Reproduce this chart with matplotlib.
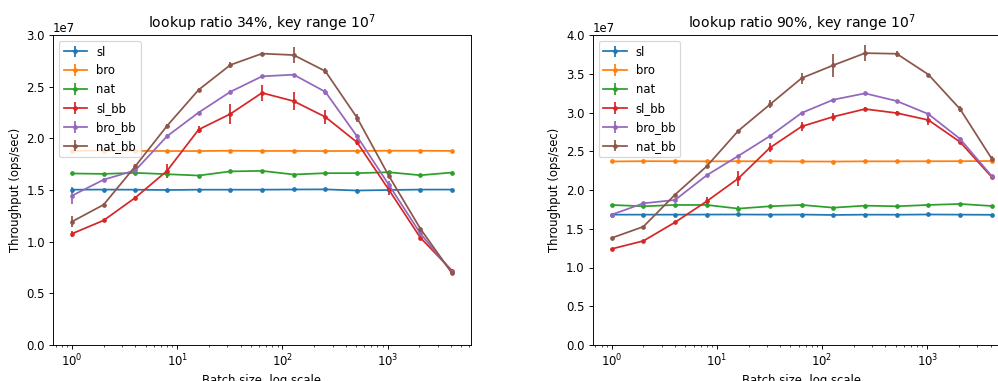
import numpy as np
import matplotlib
matplotlib.use("Agg")
import matplotlib.pyplot as plt

batch = [1, 2, 4, 8, 16, 32, 64, 128, 256, 512, 1024, 2048, 4096]
names = ["sl", "bro", "nat", "sl_bb", "bro_bb", "nat_bb"]

# lookup ratio 34%  (units of 1e7 ops/sec)
r34_sl = [1.503, 1.504, 1.503, 1.500, 1.503, 1.503, 1.503, 1.505, 1.506, 1.495, 1.500, 1.504, 1.504]
r34_bro = [1.879, 1.882, 1.879, 1.877, 1.877, 1.880, 1.878, 1.878, 1.877, 1.878, 1.880, 1.880, 1.878]
r34_nat = [1.660, 1.656, 1.666, 1.653, 1.640, 1.680, 1.685, 1.650, 1.663, 1.663, 1.672, 1.643, 1.669]
r34_sl_bb = [1.077, 1.206, 1.426, 1.685, 2.085, 2.236, 2.440, 2.360, 2.207, 1.962, 1.505, 1.039, 0.720]
r34_bro_bb = [1.445, 1.600, 1.690, 2.020, 2.250, 2.450, 2.600, 2.616, 2.450, 2.020, 1.553, 1.080, 0.706]
r34_nat_bb = [1.194, 1.358, 1.730, 2.120, 2.470, 2.710, 2.820, 2.806, 2.650, 2.200, 1.640, 1.126, 0.694]

r34_sl_err = [0.01, 0.01, 0.01, 0.01, 0.01, 0.01, 0.01, 0.01, 0.01, 0.01, 0.01, 0.01, 0.01]
r34_bro_err = [0.01, 0.01, 0.01, 0.01, 0.01, 0.01, 0.01, 0.01, 0.01, 0.01, 0.01, 0.01, 0.01]
r34_nat_err = [0.01, 0.01, 0.01, 0.01, 0.01, 0.01, 0.01, 0.01, 0.01, 0.01, 0.01, 0.01, 0.01]
r34_sl_bb_err = [0.03, 0.01, 0.02, 0.07, 0.03, 0.10, 0.08, 0.09, 0.07, 0.03, 0.05, 0.02, 0.02]
r34_bro_bb_err = [0.08, 0.02, 0.02, 0.02, 0.01, 0.02, 0.01, 0.01, 0.03, 0.02, 0.03, 0.02, 0.01]
r34_nat_bb_err = [0.05, 0.02, 0.02, 0.02, 0.02, 0.03, 0.02, 0.08, 0.03, 0.04, 0.02, 0.02, 0.02]

# lookup ratio 90%
r90_sl = [1.682, 1.682, 1.682, 1.683, 1.684, 1.682, 1.683, 1.678, 1.682, 1.681, 1.684, 1.682, 1.680]
r90_bro = [2.368, 2.372, 2.371, 2.370, 2.371, 2.371, 2.368, 2.367, 2.370, 2.370, 2.371, 2.372, 2.374]
r90_nat = [1.807, 1.790, 1.807, 1.807, 1.760, 1.790, 1.807, 1.772, 1.798, 1.790, 1.807, 1.820, 1.794]
r90_sl_bb = [1.240, 1.343, 1.583, 1.854, 2.150, 2.546, 2.820, 2.946, 3.045, 2.993, 2.903, 2.620, 2.168]
r90_bro_bb = [1.682, 1.828, 1.871, 2.190, 2.440, 2.697, 2.995, 3.165, 3.247, 3.148, 2.980, 2.660, 2.180]
r90_nat_bb = [1.381, 1.527, 1.940, 2.306, 2.765, 3.105, 3.444, 3.610, 3.766, 3.758, 3.490, 3.045, 2.405]

r90_sl_err = [0.01, 0.01, 0.01, 0.01, 0.01, 0.01, 0.01, 0.01, 0.01, 0.01, 0.01, 0.01, 0.01]
r90_bro_err = [0.01, 0.01, 0.01, 0.01, 0.01, 0.01, 0.01, 0.01, 0.01, 0.01, 0.01, 0.01, 0.01]
r90_nat_err = [0.01, 0.01, 0.01, 0.03, 0.03, 0.01, 0.01, 0.01, 0.01, 0.01, 0.01, 0.01, 0.01]
r90_sl_bb_err = [0.01, 0.01, 0.02, 0.05, 0.10, 0.06, 0.06, 0.05, 0.02, 0.02, 0.06, 0.03, 0.03]
r90_bro_bb_err = [0.01, 0.01, 0.01, 0.01, 0.01, 0.01, 0.01, 0.01, 0.01, 0.01, 0.01, 0.02, 0.02]
r90_nat_bb_err = [0.01, 0.01, 0.01, 0.01, 0.01, 0.05, 0.07, 0.15, 0.10, 0.04, 0.01, 0.04, 0.04]

panels = [
    ("lookup ratio 34%, key range $10^7$",
     [r34_sl, r34_bro, r34_nat, r34_sl_bb, r34_bro_bb, r34_nat_bb],
     [r34_sl_err, r34_bro_err, r34_nat_err, r34_sl_bb_err, r34_bro_bb_err, r34_nat_bb_err],
     3.0e7),
    ("lookup ratio 90%, key range $10^7$",
     [r90_sl, r90_bro, r90_nat, r90_sl_bb, r90_bro_bb, r90_nat_bb],
     [r90_sl_err, r90_bro_err, r90_nat_err, r90_sl_bb_err, r90_bro_bb_err, r90_nat_bb_err],
     4.0e7),
]

# the reference looks like a default-styled figure scaled down, so render at 84 dpi
W, H = 998, 381
DPI = 84
fig = plt.figure(figsize=(W / DPI, H / DPI), dpi=DPI)
lefts = [53, 592.7]
for (title, series, errs, ymax), left in zip(panels, lefts):
    ax = fig.add_axes([left / W, 36 / H, 418 / W, 310 / H])
    for name, vals, err in zip(names, series, errs):
        ax.errorbar(batch, np.array(vals) * 1e7, yerr=np.array(err) * 1e7,
                    marker=".", label=name)
    ax.set_xscale("log")
    ax.set_ylim(0, ymax)
    ax.set_title(title)
    ax.set_xlabel("Batch size, log scale")
    ax.set_ylabel("Throughput (ops/sec)")
    ax.legend(loc="upper left")

fig.savefig("out.png", dpi=DPI)
